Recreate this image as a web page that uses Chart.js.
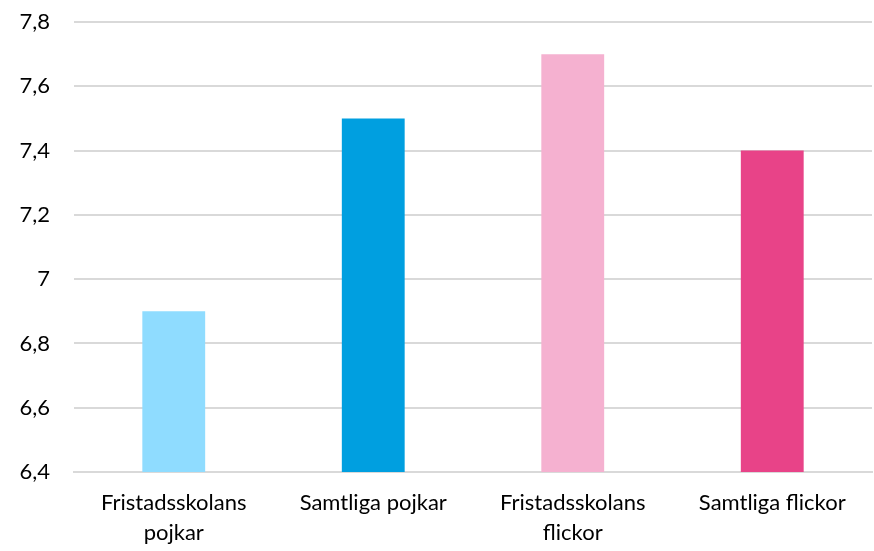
<!DOCTYPE html>
<html>
<head>
<meta charset="utf-8">
<script src="https://cdn.jsdelivr.net/npm/chart.js@4"></script>
<style>
  html, body { margin: 0; padding: 0; background: #fff; }
  #wrap { width: 874px; height: 551px; }
</style>
</head>
<body>
<div id="wrap"><canvas id="chart"></canvas></div>
<script>
    const categories = [["Fristadsskolans", "pojkar"], "Samtliga pojkar", ["Fristadsskolans", "flickor"], "Samtliga flickor"];
    const values = [6.9, 7.5, 7.7, 7.4];
    const barColors = ["#8fdcff", "#009fe0", "#f5b1d0", "#e84388"];
    const yMin = 6.4, yMax = 7.8, yStep = 0.2;

    const ctx = document.getElementById("chart").getContext("2d");
    const chart = new Chart(ctx, {
        type: "bar",
        data: {
            labels: categories,
            datasets: [
                {
                    data: values,
                    backgroundColor: barColors,
                    borderWidth: 0,
                    barPercentage: 0.315,
                    categoryPercentage: 1,
                },
            ],
        },
        options: {
            responsive: true,
            maintainAspectRatio: false,
            animation: false,
            layout: { padding: { top: 22, right: 2, left: 0, bottom: 0 } },
            plugins: { legend: { display: false }, tooltip: { enabled: false } },
            scales: {
                x: {
                    grid: { display: false, drawTicks: false },
                    border: { display: true, color: "#d9d9d9", width: 2 },
                    ticks: {
                        color: "#000",
                        font: { family: "Lato, 'Open Sans', sans-serif", size: 22, lineHeight: 1.35 },
                        padding: 16,
                        maxRotation: 0,
                        autoSkip: false,
                    },
                    afterFit: (scale) => { scale.height = 79; },
                },
                y: {
                    min: yMin,
                    max: yMax,
                    grid: { color: "#d9d9d9", lineWidth: 2, drawTicks: false },
                    border: { display: false },
                    ticks: {
                        stepSize: yStep,
                        color: "#000",
                        padding: 24,
                        font: { family: "Lato, 'Open Sans', sans-serif", size: 22 },
                        callback: (v) => String(Math.round(v * 10) / 10).replace(".", ","),
                    },
                    afterFit: (scale) => { scale.width = 74; scale.paddingTop = 0; scale.paddingBottom = 0; },
                },
            },
        },
    });
</script>
</body>
</html>
